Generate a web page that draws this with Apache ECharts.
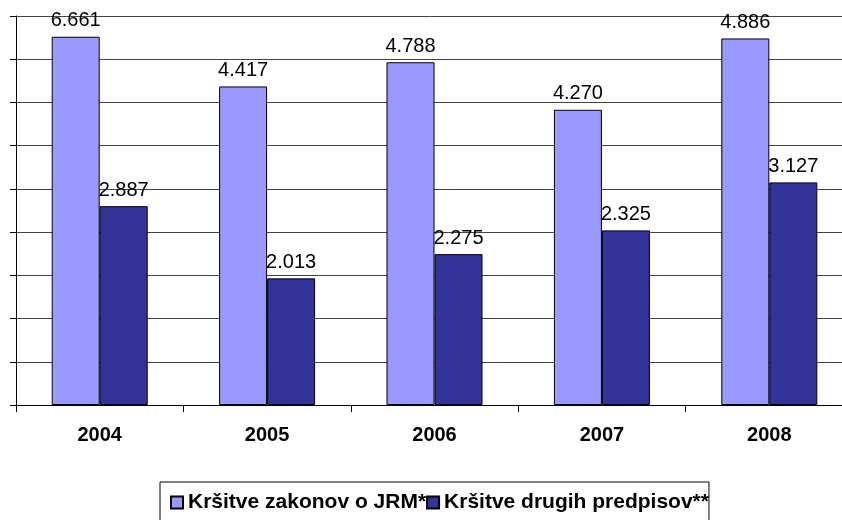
<!DOCTYPE html>
<html>
<head>
<meta charset="utf-8">
<style>
  html, body { margin: 0; padding: 0; background: #fff; }
  #chart { width: 842px; height: 520px; }
</style>
<script src="https://cdn.jsdelivr.net/npm/echarts@6/dist/echarts.min.js"></script>
</head>
<body>
<div id="chart"></div>
<script>
  // categories
  var years = ['2004', '2005', '2006', '2007', '2008'];
  // bar heights as drawn (in grid steps, axis has no labels)
  var jrmHeights = [8.52, 7.37, 7.93, 6.83, 8.48];
  var drugiHeights = [4.60, 2.93, 3.49, 4.04, 5.15];
  // label texts printed on the bars
  var jrmLabels = ['6.661', '4.417', '4.788', '4.270', '4.886'];
  var drugiLabels = ['2.887', '2.013', '2.275', '2.325', '3.127'];
  var seriesNames = ['Kršitve zakonov o JRM*', 'Kršitve drugih predpisov**'];

  var chart = echarts.init(document.getElementById('chart'));
  var font = '"Liberation Sans", Arial, sans-serif';

  function labelOf(list) {
    return {
      show: true,
      position: 'top',
      distance: 6,
      color: '#000',
      fontFamily: font,
      fontSize: 20,
      formatter: function (p) { return list[p.dataIndex]; }
    };
  }

  var option = {
    animation: false,
    backgroundColor: '#fff',
    grid: {
      left: 16,
      top: 16,
      width: 837,
      height: 389,
      outerBoundsMode: 'none'
    },
    legend: {
      left: 160,
      top: 482,
      padding: [10, 0, 30, 10],
      borderColor: '#000',
      borderWidth: 1,
      itemWidth: 12,
      itemHeight: 12,
      itemGap: 0,
      icon: 'rect',
      textStyle: {
        color: '#000',
        fontFamily: font,
        fontWeight: 'bold',
        fontSize: 21
      },
      data: seriesNames
    },
    xAxis: {
      type: 'category',
      data: years,
      axisLine: { lineStyle: { color: '#000', width: 1 } },
      axisTick: { show: true, length: 7, lineStyle: { color: '#000' } },
      axisLabel: {
        margin: 20,
        color: '#000',
        fontFamily: font,
        fontWeight: 'bold',
        fontSize: 20
      }
    },
    yAxis: {
      type: 'value',
      min: 0,
      max: 9,
      interval: 1,
      axisLine: { show: true, lineStyle: { color: '#000', width: 1 } },
      axisTick: { show: true, length: 6, lineStyle: { color: '#000' } },
      axisLabel: { show: false },
      splitLine: { show: true, lineStyle: { color: '#444', width: 1 } }
    },
    series: [
      {
        name: seriesNames[0],
        type: 'bar',
        barWidth: 48,
        barGap: '0%',
        itemStyle: { color: '#9999ff', borderColor: '#000', borderWidth: 1 },
        label: labelOf(jrmLabels),
        data: jrmHeights
      },
      {
        name: seriesNames[1],
        type: 'bar',
        barWidth: 48,
        barGap: '0%',
        itemStyle: { color: '#333399', borderColor: '#000', borderWidth: 1 },
        label: labelOf(drugiLabels),
        data: drugiHeights
      }
    ]
  };
  chart.setOption(option);
</script>
</body>
</html>
